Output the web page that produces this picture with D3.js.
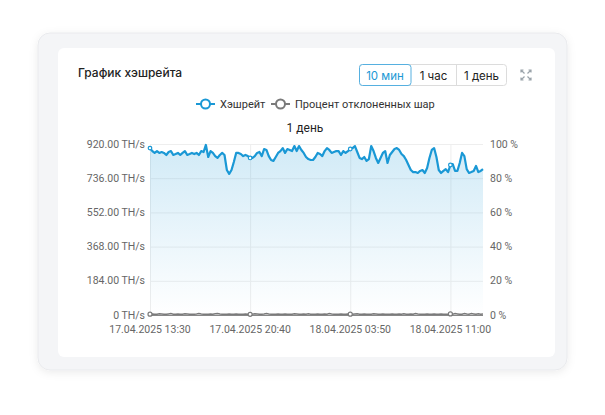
<!DOCTYPE html>
<html>
<head>
<meta charset="utf-8">
<script src="https://cdn.jsdelivr.net/npm/d3@7"></script>
<style>
  html, body { margin: 0; padding: 0; background: #fff; }
  svg { display: block; }
</style>
</head>
<body>
<svg id="chart" width="605" height="415"></svg>
<script>
// hashrate, TH/s, one point per 10 min
const hashrate = [
  898, 882, 872, 882, 872, 877, 872, 861, 877, 882,
  861, 866, 872, 861, 872, 882, 861, 866, 872, 866,
  872, 861, 882, 877, 915, 850, 882, 872, 855, 845,
  861, 872, 861, 780, 759, 780, 823, 872, 872, 866,
  855, 861, 855, 845, 845, 855, 872, 877, 855, 893,
  888, 855, 834, 829, 850, 872, 882, 898, 872, 893,
  888, 882, 909, 882, 909, 888, 872, 850, 839, 834,
  834, 850, 872, 866, 855, 882, 898, 888, 872, 877,
  882, 882, 861, 882, 872, 882, 893, 898, 909, 877,
  845, 839, 850, 829, 839, 909, 882, 845, 818, 845,
  872, 882, 818, 861, 877, 893, 898, 888, 866, 855,
  834, 807, 780, 769, 769, 764, 775, 780, 764, 791,
  845, 888, 898, 850, 780, 764, 775, 785, 769, 807,
  812, 775, 775, 818, 872, 855, 785, 764, 769, 775,
  802, 769, 775, 785
];
// rejected shares, %
const rejected = [
  0.5, 0.6, 0.4, 0.5, 0.7, 0.6, 0.5, 0.4, 0.6, 0.8,
  0.5, 0.4, 0.6, 0.5, 0.4, 0.7, 0.6, 0.5, 0.4, 0.5,
  0.6, 0.8, 0.6, 0.5, 0.4, 0.5, 0.6, 0.5, 0.7, 0.9,
  0.6, 0.5, 0.4, 0.5, 0.6, 0.5, 0.4, 0.6, 0.5, 0.4,
  0.5, 0.6, 0.5, 0.4, 0.5, 0.7, 0.6, 0.4, 0.5, 0.6,
  0.8, 0.6, 0.5, 0.4, 0.5, 0.6, 0.4, 0.5, 0.6, 0.5,
  0.4, 0.5, 0.7, 0.6, 0.5, 0.4, 0.6, 0.5, 0.7, 0.5,
  0.4, 0.5, 0.6, 0.5, 0.4, 0.6, 0.5, 0.8, 0.6, 0.5,
  0.4, 0.5, 0.6, 0.4, 0.5, 0.6, 0.5, 0.4, 0.6, 0.7,
  0.5, 0.4, 0.6, 0.5, 0.4, 0.5, 0.7, 0.6, 0.5, 0.4,
  0.6, 0.5, 0.4, 0.5, 0.6, 0.5, 0.4, 0.6, 0.5, 0.7,
  0.5, 0.4, 0.6, 0.5, 0.8, 0.6, 0.5, 0.4, 0.5, 0.6,
  0.5, 0.4, 0.6, 0.5, 0.4, 0.6, 0.5, 0.4, 0.5, 0.6,
  0.5, 0.8, 0.6, 0.4, 0.5, 0.9, 0.6, 0.5, 0.8, 0.6,
  0.4, 0.7, 0.5, 0.6
];
const tickIndex = [0, 43, 86, 129];
const tickLabels = ["17.04.2025 13:30", "17.04.2025 20:40", "18.04.2025 03:50", "18.04.2025 11:00"];
const leftTicks = [0, 184, 368, 552, 736, 920];
const leftLabels = ["0 TH/s", "184.00 TH/s", "368.00 TH/s", "552.00 TH/s", "736.00 TH/s", "920.00 TH/s"];
const rightTicks = [0, 20, 40, 60, 80, 100];
const buttons = ["10 мин", "1 час", "1 день"];
const legendNames = ["Хэшрейт", "Процент отклоненных шар"];

const blue = "#1a98d5", gray = "#7a7a7a";
const svg = d3.select("#chart");

// panels
const defs = svg.append("defs");
const sh = defs.append("filter").attr("id", "sh").attr("x", "-10%").attr("y", "-10%").attr("width", "120%").attr("height", "130%");
sh.append("feDropShadow").attr("dx", 0).attr("dy", 2).attr("stdDeviation", 4).attr("flood-color", "#000").attr("flood-opacity", 0.08);
svg.append("rect").attr("x", 38).attr("y", 33).attr("width", 529).attr("height", 337).attr("rx", 12)
  .attr("fill", "#f4f5f7").attr("stroke", "#e9eaed").attr("filter", "url(#sh)");
svg.append("rect").attr("x", 58).attr("y", 48).attr("width", 497).attr("height", 309).attr("rx", 6).attr("fill", "#fff");

svg.append("text").attr("x", 78).attr("y", 77).text("График хэшрейта")
  .attr("font-family", "Inter, sans-serif").attr("font-size", 12).attr("font-weight", 500).attr("fill", "#222");

// segmented buttons
const bx = [359, 411, 456, 507];
const bg = svg.append("g");
bg.append("rect").attr("x", 359.5).attr("y", 64.5).attr("width", 147).attr("height", 21).attr("rx", 3)
  .attr("fill", "#fff").attr("stroke", "#dcdcdc");
bg.selectAll("line.sep").data([456]).join("line")
  .attr("x1", d => d + 0.5).attr("x2", d => d + 0.5).attr("y1", 65).attr("y2", 85).attr("stroke", "#dcdcdc");
bg.append("rect").attr("x", 359.5).attr("y", 64.5).attr("width", 51.5).attr("height", 21).attr("rx", 3)
  .attr("fill", "#fff").attr("stroke", "#56b0e0");
bg.selectAll("text").data(buttons).join("text")
  .attr("x", (d, i) => (bx[i] + bx[i + 1]) / 2).attr("y", 79.5).attr("text-anchor", "middle")
  .attr("font-family", "Inter, sans-serif").attr("font-size", 11.5)
  .attr("fill", (d, i) => i === 0 ? "#1a98d5" : "#222").text(d => d);

// expand icon
const ic = svg.append("g").attr("transform", "translate(526,75)").attr("stroke", "#9aa3aa").attr("stroke-width", 1.2).attr("fill", "none");
[[-1, -1], [1, -1], [-1, 1], [1, 1]].forEach(([sx, sy]) => {
  ic.append("path").attr("d", `M${sx * 5},${sy * 5}L${sx * 1.5},${sy * 1.5}M${sx * 5},${sy * 2.5}L${sx * 5},${sy * 5}L${sx * 2.5},${sy * 5}`);
});

// legend
const lx = [196, 271];
const lg = svg.selectAll("g.leg").data(legendNames).join("g").attr("transform", (d, i) => `translate(${lx[i]},104)`);
lg.append("line").attr("x1", 0).attr("x2", 19).attr("stroke", (d, i) => i ? gray : blue).attr("stroke-width", 2);
lg.append("circle").attr("cx", 9.5).attr("r", 4.5).attr("fill", "#fff").attr("stroke", (d, i) => i ? gray : blue).attr("stroke-width", 2);
lg.append("text").attr("x", 24).attr("y", 4).text(d => d)
  .attr("font-family", "Roboto, sans-serif").attr("font-size", 11).attr("fill", "#333");

svg.append("text").attr("x", 305).attr("y", 132).attr("text-anchor", "middle").text("1 день")
  .attr("font-family", "Roboto, sans-serif").attr("font-size", 12).attr("fill", "#222");

// scales
const x = d3.scaleLinear().domain([0, hashrate.length - 1]).range([150, 483]);
const y = d3.scaleLinear().domain([0, 920]).range([315, 144]);
const yr = d3.scaleLinear().domain([0, 100]).range([315, 144]);

// grid
svg.append("g").selectAll("line").data(leftTicks.slice(1)).join("line")
  .attr("x1", 150).attr("x2", 483).attr("y1", d => y(d) + 0.5).attr("y2", d => y(d) + 0.5).attr("stroke", "#eeeeee");
svg.append("g").selectAll("line").data(tickIndex).join("line")
  .attr("x1", d => x(d) + 0.5).attr("x2", d => x(d) + 0.5).attr("y1", 144).attr("y2", 315).attr("stroke", "#eeeeee");

// area
const grad = defs.append("linearGradient").attr("id", "ag").attr("x1", 0).attr("x2", 0).attr("y1", 0).attr("y2", 1);
grad.append("stop").attr("offset", 0).attr("stop-color", blue).attr("stop-opacity", 0.2);
grad.append("stop").attr("offset", 1).attr("stop-color", blue).attr("stop-opacity", 0.0);
svg.append("path").datum(hashrate).attr("fill", "url(#ag)")
  .attr("d", d3.area().x((d, i) => x(i)).y0(315).y1(d => y(d)));

// axes
const fAxis = sel => sel.attr("font-family", "Roboto, sans-serif").attr("font-size", 10.5).attr("fill", "#666");
const axl = svg.append("g").call(fAxis);
axl.selectAll("text").data(leftTicks).join("text").attr("x", 145).attr("y", d => y(d) + 3.5)
  .attr("text-anchor", "end").text((d, i) => leftLabels[i]);
const axr = svg.append("g").call(fAxis);
axr.selectAll("text").data(rightTicks).join("text").attr("x", 490).attr("y", d => yr(d) + 3.5)
  .text(d => d + " %");
const axb = svg.append("g").call(fAxis);
axb.selectAll("text").data(tickIndex).join("text").attr("x", d => x(d)).attr("y", 333)
  .attr("text-anchor", "middle").text((d, i) => tickLabels[i]);
svg.append("line").attr("x1", 150).attr("x2", 483).attr("y1", 315.5).attr("y2", 315.5).attr("stroke", "#888");

// lines
svg.append("path").datum(rejected).attr("fill", "none").attr("stroke", gray).attr("stroke-width", 1.5)
  .attr("d", d3.line().x((d, i) => x(i)).y(d => yr(d)));
svg.append("path").datum(hashrate).attr("fill", "none").attr("stroke", blue).attr("stroke-width", 2.2)
  .attr("stroke-linejoin", "round").attr("d", d3.line().x((d, i) => x(i)).y(d => y(d)));

svg.append("g").selectAll("circle").data(tickIndex).join("circle")
  .attr("cx", d => x(d)).attr("cy", d => yr(rejected[d])).attr("r", 2)
  .attr("fill", "#fff").attr("stroke", gray).attr("stroke-width", 1.2);
svg.append("g").selectAll("circle").data(tickIndex).join("circle")
  .attr("cx", d => x(d)).attr("cy", d => y(hashrate[d])).attr("r", 1.8)
  .attr("fill", "#fff").attr("stroke", blue).attr("stroke-width", 1.2);
</script>
</body>
</html>
